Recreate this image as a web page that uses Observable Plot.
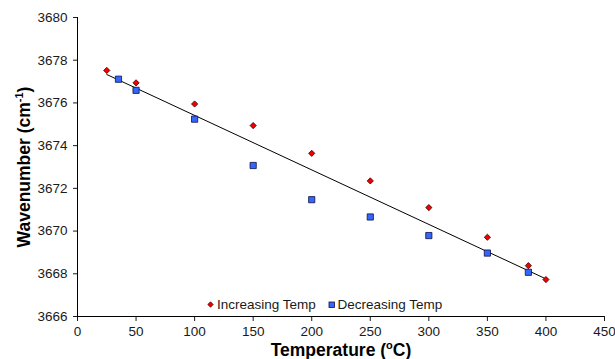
<!DOCTYPE html>
<html><head><meta charset="utf-8">
<script src="https://cdn.jsdelivr.net/npm/d3@7"></script>
<script src="https://cdn.jsdelivr.net/npm/@observablehq/plot@0.6"></script>
<style>body{margin:0;background:#fff;font-family:"Liberation Sans",Arial,sans-serif}</style>
</head><body><div id="chart"></div>
<script>
const incTemp = [25, 50, 100, 150, 200, 250, 300, 350, 385, 400];
const incWave = [3677.52, 3676.94, 3675.95, 3674.94, 3673.64, 3672.35, 3671.10, 3669.71, 3668.38, 3667.73];
const decTemp = [35, 50, 100, 150, 200, 250, 300, 350, 385];
const decWave = [3677.11, 3676.59, 3675.24, 3673.07, 3671.47, 3670.66, 3669.79, 3668.97, 3668.07];
const trendTemp = [25, 400];
const trendWave = [3677.33, 3667.76];
const xTicks = [0, 50, 100, 150, 200, 250, 300, 350, 400, 450];
const yTicks = [3666, 3668, 3670, 3672, 3674, 3676, 3678, 3680];

const inc = incTemp.map((t, i) => ({t, w: incWave[i]}));
const dec = decTemp.map((t, i) => ({t, w: decWave[i]}));
const trend = trendTemp.map((t, i) => ({t, w: trendWave[i]}));

const RED = "#f00000", RED_S = "#3a0000", BLUE = "#3366ff", BLUE_S = "#10103a";

const plot = Plot.plot({
  width: 615, height: 359,
  marginLeft: 77, marginRight: 11, marginTop: 17, marginBottom: 43,
  style: {fontFamily: '"Liberation Sans", Arial, sans-serif', fontSize: "13px", color: "#1a1a1a", background: "#fff"},
  x: {domain: [0, 450], ticks: xTicks, label: null},
  y: {domain: [3666, 3680], ticks: yTicks, label: null},
  marks: [
    Plot.axisX({ticks: xTicks, tickSize: 5, tickPadding: 5, fontSize: 13.5, label: null}),
    Plot.axisY({ticks: yTicks, tickSize: 4, tickPadding: 6, fontSize: 13.5, tickFormat: d => String(d), label: null}),
    Plot.ruleX([0], {stroke: "#000", strokeWidth: 1}),
    Plot.ruleY([3666], {stroke: "#000", strokeWidth: 1}),
    Plot.line(trend, {x: "t", y: "w", stroke: "#000", strokeWidth: 1}),
    Plot.dot(dec, {x: "t", y: "w", symbol: "square", r: 3.5, fill: BLUE, stroke: BLUE_S, strokeWidth: 0.8}),
    Plot.dot(inc, {x: "t", y: "w", symbol: "diamond2", r: 2.8, fill: RED, stroke: RED_S, strokeWidth: 0.8})
  ]
});
document.getElementById("chart").appendChild(plot);

const svg = d3.select(plot);
// axis titles
const yt = svg.append("text")
  .attr("transform", "translate(30,167) rotate(-90)")
  .attr("text-anchor", "middle")
  .attr("font-size", 17.5).attr("font-weight", "bold").attr("fill", "#000");
yt.append("tspan").text("Wavenumber (cm");
yt.append("tspan").attr("font-size", 11).attr("dy", -7).text("-1");
yt.append("tspan").attr("dy", 7).text(")");

const xt = svg.append("text")
  .attr("x", 341).attr("y", 356)
  .attr("text-anchor", "middle")
  .attr("font-size", 17.5).attr("font-weight", "bold").attr("fill", "#000");
xt.append("tspan").text("Temperature (");
xt.append("tspan").attr("font-size", 11).attr("dy", -7).text("o");
xt.append("tspan").attr("dy", 7).text("C)");

// legend
const lg = svg.append("g").attr("font-size", 13.5).attr("fill", "#1a1a1a").attr("text-anchor", "start");
lg.append("path").attr("d", d3.symbol(d3.symbolDiamond2, 18)()).attr("transform", "translate(210.5,304.5)")
  .attr("fill", RED).attr("stroke", RED_S).attr("stroke-width", 0.8);
lg.append("text").attr("x", 217).attr("y", 308.5).text("Increasing Temp");
lg.append("rect").attr("x", 329).attr("y", 302).attr("width", 5.5).attr("height", 5.5)
  .attr("fill", BLUE).attr("stroke", BLUE_S).attr("stroke-width", 0.8);
lg.append("text").attr("x", 337.5).attr("y", 308.5).text("Decreasing Temp");
</script></body></html>
